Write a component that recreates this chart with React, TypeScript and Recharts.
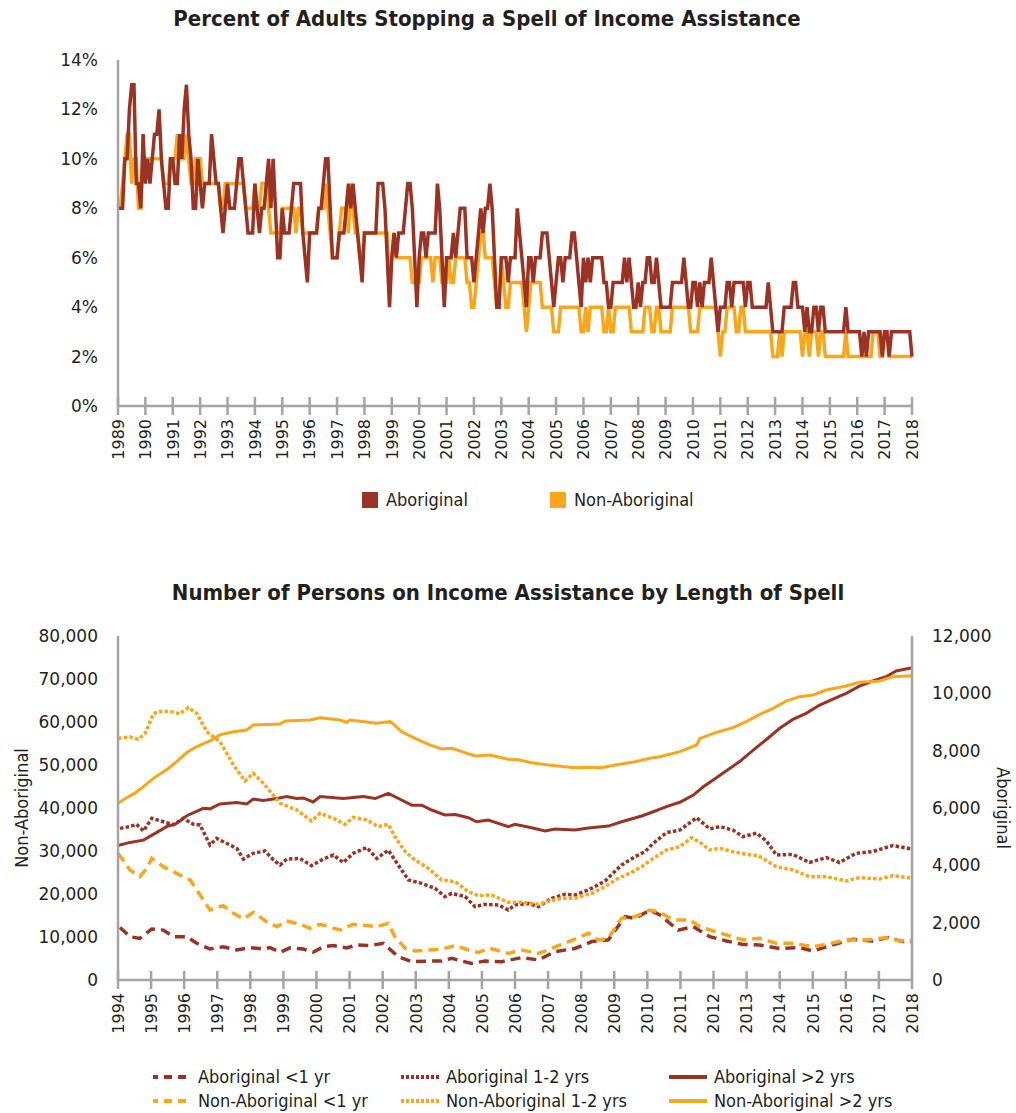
import { LineChart, Line, XAxis, YAxis } from 'recharts'

const ABOR = '#9a3324'
const NONAB = '#f9a61b'
const AXIS = '#a4a4a4'
const TICK_FONT = "'DejaVu Sans', Verdana, sans-serif"
const COND_FONT = "'DejaVu Sans Condensed', 'Liberation Sans Narrow', 'Arial Narrow', sans-serif"

// ---- chart 1: % stopping a spell (monthly, Jan 1989 - Jan 2018)
const stopYearTicks = Array.from({ length: 30 }, (_, i) => 1989 + i)
const pctTicks = [0, 2, 4, 6, 8, 10, 12, 14]

const stopAboriginal = [
  8, 8, 8, 10, 10, 12, 13, 13, 9, 9, 8, 11,
  9, 10, 9, 10, 11, 11, 12, 10, 9, 8, 8, 10,
  10, 9, 9, 11, 10, 12, 13, 11, 10, 8, 8, 10,
  9, 8, 9, 9, 9, 11, 10, 9, 9, 8, 7, 8,
  9, 8, 8, 8, 9, 10, 10, 9, 8, 7, 7, 7,
  9, 8, 7, 8, 8, 9, 10, 8, 10, 8, 6, 6,
  8, 7, 7, 7, 8, 9, 9, 9, 9, 7, 6, 5,
  7, 7, 7, 7, 8, 8, 9, 10, 10, 8, 6, 6,
  6, 7, 7, 7, 8, 9, 8, 9, 8, 7, 6, 5,
  7, 7, 7, 7, 7, 7, 9, 9, 9, 8, 6, 4,
  6, 7, 6, 7, 7, 7, 8, 9, 9, 8, 6, 4,
  6, 7, 7, 6, 7, 7, 7, 7, 9, 8, 6, 4,
  6, 6, 6, 7, 6, 7, 8, 8, 8, 6, 6, 6,
  5, 6, 7, 8, 7, 8, 8, 9, 8, 6, 4, 4,
  6, 6, 6, 5, 6, 6, 6, 8, 7, 6, 5, 4,
  6, 6, 5, 6, 6, 6, 7, 7, 7, 6, 5, 4,
  5, 6, 6, 5, 6, 6, 6, 7, 7, 6, 5, 4,
  6, 5, 6, 5, 6, 6, 6, 6, 6, 5, 5, 4,
  4, 5, 5, 5, 5, 5, 6, 5, 6, 5, 4, 4,
  5, 4, 5, 5, 6, 6, 5, 5, 6, 5, 4, 4,
  4, 4, 4, 5, 5, 5, 5, 5, 6, 5, 4, 4,
  5, 5, 4, 5, 4, 5, 5, 5, 6, 5, 4, 3,
  4, 4, 4, 5, 5, 4, 5, 5, 5, 5, 5, 4,
  5, 5, 4, 4, 4, 4, 4, 4, 4, 5, 4, 3,
  3, 3, 3, 3, 4, 4, 4, 4, 5, 5, 4, 4,
  4, 3, 4, 3, 3, 4, 4, 3, 4, 4, 3, 3,
  3, 3, 3, 3, 3, 3, 3, 4, 3, 3, 3, 3,
  3, 3, 2, 3, 2, 3, 3, 3, 3, 3, 3, 2,
  3, 3, 2, 3, 3, 3, 3, 3, 3, 3, 3, 3,
  2,
]

const stopNonAboriginal = [
  8, 8, 9, 10, 11, 11, 9, 10, 10, 8, 8, 10,
  10, 10, 10, 10, 10, 10, 10, 10, 9, 9, 9, 10,
  10, 10, 11, 10, 10, 10, 11, 10, 9, 9, 10, 10,
  10, 9, 9, 9, 9, 9, 9, 9, 9, 8, 8, 9,
  9, 9, 9, 9, 9, 9, 9, 9, 8, 8, 8, 8,
  9, 8, 8, 9, 9, 9, 8, 7, 7, 7, 7, 7,
  8, 8, 8, 8, 8, 8, 7, 8, 8, 7, 7, 7,
  7, 7, 7, 7, 8, 8, 8, 9, 8, 7, 6, 6,
  6, 7, 8, 8, 8, 7, 9, 8, 7, 7, 6, 6,
  7, 7, 7, 7, 7, 7, 7, 7, 7, 7, 7, 5,
  6, 7, 6, 6, 6, 6, 6, 6, 6, 5, 5, 5,
  5, 6, 6, 6, 6, 6, 5, 6, 6, 6, 5, 5,
  5, 6, 5, 5, 6, 6, 6, 6, 6, 5, 5, 4,
  4, 5, 6, 7, 7, 6, 6, 6, 6, 5, 4, 4,
  6, 5, 4, 4, 5, 5, 5, 5, 5, 5, 4, 3,
  4, 5, 5, 5, 5, 5, 4, 4, 4, 4, 4, 3,
  3, 3, 4, 4, 4, 4, 4, 4, 4, 4, 4, 3,
  3, 4, 3, 4, 4, 4, 4, 4, 4, 3, 3, 4,
  3, 3, 4, 4, 4, 4, 4, 4, 4, 3, 3, 3,
  3, 3, 3, 4, 4, 4, 3, 3, 4, 4, 3, 3,
  3, 3, 3, 4, 4, 4, 4, 4, 4, 4, 4, 3,
  3, 3, 3, 4, 4, 4, 4, 4, 4, 4, 4, 3,
  2, 3, 3, 4, 4, 4, 4, 3, 3, 4, 4, 3,
  3, 3, 3, 3, 3, 3, 3, 3, 3, 3, 3, 2,
  2, 2, 3, 2, 3, 3, 3, 3, 3, 3, 3, 3,
  2, 3, 3, 2, 3, 3, 3, 2, 3, 3, 2, 2,
  2, 2, 2, 2, 2, 2, 2, 3, 2, 2, 2, 2,
  2, 2, 2, 2, 2, 2, 2, 3, 3, 3, 2, 2,
  3, 3, 2, 2, 2, 2, 2, 2, 2, 2, 2, 2,
  2,
]

const stopData = stopAboriginal.map((v, i) => ({
  t: 1989 + i / 12,
  ab: v,
  non: stopNonAboriginal[i],
}))

// ---- chart 2: persons on IA by length of spell, [year, count]
const spellYearTicks = Array.from({ length: 25 }, (_, i) => 1994 + i)
const nonTicks = [0, 10000, 20000, 30000, 40000, 50000, 60000, 70000, 80000]
const abTicks = [0, 2000, 4000, 6000, 8000, 10000, 12000]

const nonAbOver2: [number, number][] = [
  [1994.0, 41090], [1994.26, 42400], [1994.5, 43400], [1994.77, 44960], [1995.07, 46900],
  [1995.52, 49200], [1995.77, 50800], [1996.08, 52900], [1996.38, 54300], [1996.78, 55600],
  [1997.08, 57000], [1997.49, 57750], [1997.89, 58140], [1998.09, 59300], [1998.9, 59530],
  [1999.05, 60230], [1999.8, 60470], [2000.11, 61000], [2000.71, 60470], [2000.91, 59930],
  [2001.01, 60470], [2001.82, 59690], [2002.22, 60080], [2002.32, 59530], [2002.57, 57750],
  [2002.98, 56200], [2003.38, 54800], [2003.78, 53720], [2004.09, 53880], [2004.39, 53100],
  [2004.79, 52100], [2005.24, 52300], [2005.8, 51320], [2006.1, 51200], [2006.5, 50540],
  [2007.01, 50000], [2007.81, 49380], [2008.22, 49450], [2008.62, 49380], [2009.02, 50000],
  [2009.63, 50770], [2010.08, 51550], [2010.38, 51940], [2010.98, 53100], [2011.49, 54650],
  [2011.59, 56200], [2012.09, 57600], [2012.59, 58680], [2012.99, 60080], [2013.4, 61780],
  [2013.8, 63180], [2014.2, 64880], [2014.6, 65890], [2015.01, 66280], [2015.41, 67440],
  [2016.01, 68370], [2016.41, 69230], [2017.02, 69530], [2017.42, 70550], [2018.0, 70780],
]

const abOver2: [number, number][] = [
  [1994.0, 4690], [1994.36, 4800], [1994.77, 4880], [1995.07, 5080], [1995.47, 5350],
  [1995.77, 5460], [1996.08, 5730], [1996.58, 5990], [1996.78, 5970], [1997.08, 6140],
  [1997.59, 6190], [1997.89, 6140], [1998.09, 6310], [1998.39, 6260], [1998.8, 6330],
  [1999.1, 6400], [1999.4, 6330], [1999.6, 6350], [1999.9, 6210], [2000.11, 6400],
  [2000.81, 6330], [2001.42, 6400], [2001.77, 6330], [2002.17, 6510], [2002.57, 6280],
  [2002.88, 6100], [2003.18, 6100], [2003.48, 5930], [2003.88, 5760], [2004.19, 5770],
  [2004.59, 5660], [2004.84, 5520], [2005.19, 5580], [2005.8, 5350], [2006.0, 5430],
  [2006.5, 5310], [2006.91, 5200], [2007.21, 5270], [2007.81, 5230], [2008.22, 5300],
  [2008.82, 5370], [2009.22, 5520], [2009.83, 5720], [2010.18, 5870], [2010.58, 6050],
  [2010.98, 6200], [2011.39, 6450], [2011.69, 6740], [2011.99, 6980], [2012.39, 7300],
  [2012.79, 7620], [2013.2, 8020], [2013.6, 8390], [2014.0, 8780], [2014.4, 9090],
  [2014.8, 9300], [2015.21, 9590], [2015.61, 9800], [2016.01, 10000], [2016.41, 10250],
  [2016.81, 10430], [2017.22, 10580], [2017.52, 10780], [2018.0, 10890],
]

const nonAb1to2: [number, number][] = [
  [1994.0, 56200], [1994.36, 56500], [1994.61, 56000], [1994.82, 57370], [1995.07, 62000],
  [1995.37, 62560], [1995.67, 62300], [1995.87, 61900], [1996.13, 63330], [1996.38, 62000],
  [1996.68, 57750], [1997.08, 55430], [1997.49, 50000], [1997.84, 46280], [1998.09, 48060],
  [1998.39, 45740], [1998.9, 41090], [1999.4, 39540], [1999.85, 36980], [2000.11, 38760],
  [2000.51, 37600], [2000.86, 36200], [2001.11, 37800], [2001.52, 37210], [2001.87, 35660],
  [2002.17, 36200], [2002.37, 33330], [2002.68, 29840], [2002.98, 27900], [2003.38, 25970],
  [2003.78, 23260], [2004.19, 22870], [2004.59, 20540], [2004.89, 19610], [2005.29, 19770],
  [2005.8, 18060], [2006.2, 18060], [2006.71, 17600], [2007.01, 18300], [2007.41, 19000],
  [2007.81, 19000], [2008.32, 20160], [2008.72, 21710], [2009.12, 23640], [2009.53, 25040],
  [2009.83, 26360], [2010.18, 28290], [2010.58, 30230], [2010.98, 31010], [2011.34, 33100],
  [2011.59, 32010], [2011.89, 30230], [2012.19, 30620], [2012.59, 29840], [2012.99, 29220],
  [2013.35, 28910], [2013.9, 26360], [2014.4, 25580], [2014.9, 24030], [2015.41, 24030],
  [2016.01, 23020], [2016.41, 23800], [2017.02, 23490], [2017.42, 24260], [2018.0, 23640],
]

const ab1to2: [number, number][] = [
  [1994.06, 5290], [1994.36, 5350], [1994.56, 5430], [1994.77, 5200], [1995.02, 5640],
  [1995.37, 5520], [1995.67, 5410], [1995.97, 5640], [1996.28, 5430], [1996.48, 5410],
  [1996.78, 4710], [1996.98, 4940], [1997.28, 4770], [1997.59, 4590], [1997.79, 4220],
  [1998.09, 4420], [1998.44, 4500], [1998.7, 4190], [1998.9, 4010], [1999.1, 4220],
  [1999.5, 4240], [1999.85, 3990], [2000.21, 4220], [2000.51, 4360], [2000.81, 4100],
  [2001.11, 4420], [2001.52, 4620], [2001.82, 4240], [2002.17, 4530], [2002.47, 4010],
  [2002.78, 3490], [2003.18, 3370], [2003.58, 3200], [2003.88, 2910], [2004.09, 3020],
  [2004.49, 2910], [2004.79, 2560], [2005.09, 2640], [2005.5, 2620], [2005.8, 2440],
  [2006.0, 2620], [2006.4, 2670], [2006.71, 2560], [2007.11, 2850], [2007.51, 2990],
  [2007.81, 2970], [2008.22, 3140], [2008.72, 3450], [2009.22, 4010], [2009.63, 4300],
  [2009.93, 4480], [2010.18, 4770], [2010.58, 5140], [2010.98, 5230], [2011.49, 5660],
  [2011.89, 5270], [2012.19, 5350], [2012.59, 5230], [2012.89, 5000], [2013.3, 5120],
  [2013.6, 4850], [2013.9, 4360], [2014.4, 4380], [2014.9, 4100], [2015.41, 4270],
  [2015.81, 4100], [2016.31, 4420], [2016.81, 4480], [2017.42, 4690], [2018.0, 4570],
]

const nonAbUnder1: [number, number][] = [
  [1994.0, 29500], [1994.36, 25580], [1994.66, 24030], [1994.87, 25970], [1995.02, 28290],
  [1995.37, 26360], [1995.77, 24810], [1996.18, 23260], [1996.48, 19770], [1996.78, 16280],
  [1997.18, 17290], [1997.49, 15500], [1997.79, 14190], [1998.09, 15740], [1998.49, 13570],
  [1998.8, 12400], [1999.1, 13720], [1999.5, 12950], [1999.8, 12020], [2000.11, 12950],
  [2000.71, 11630], [2001.11, 12950], [2001.82, 12400], [2002.17, 13180], [2002.37, 10080],
  [2002.68, 7360], [2002.98, 6750], [2003.38, 6980], [2003.78, 7210], [2004.19, 7990],
  [2004.59, 6980], [2004.89, 6430], [2005.24, 7360], [2005.8, 6200], [2006.2, 6980],
  [2006.71, 6200], [2007.01, 6980], [2007.31, 7990], [2007.81, 9530], [2008.22, 10850],
  [2008.52, 9300], [2008.82, 9690], [2009.22, 14340], [2009.63, 14730], [2010.08, 16280],
  [2010.38, 15740], [2010.78, 13950], [2011.29, 13950], [2011.59, 12400], [2011.99, 11400],
  [2012.39, 10470], [2012.89, 9300], [2013.4, 9690], [2013.9, 8530], [2014.4, 8530],
  [2015.01, 7750], [2015.41, 8290], [2016.01, 9300], [2016.61, 9300], [2017.22, 9840],
  [2017.62, 9070], [2018.0, 9300],
]

const abUnder1: [number, number][] = [
  [1994.06, 1830], [1994.36, 1510], [1994.66, 1450], [1995.02, 1780], [1995.37, 1740],
  [1995.67, 1510], [1996.08, 1510], [1996.38, 1280], [1996.78, 1080], [1997.18, 1160],
  [1997.59, 1050], [1997.99, 1130], [1998.39, 1080], [1998.59, 1130], [1998.9, 970],
  [1999.2, 1120], [1999.6, 1080], [1999.9, 970], [2000.21, 1160], [2000.51, 1200],
  [2000.91, 1120], [2001.21, 1220], [2001.62, 1200], [2002.02, 1280], [2002.47, 810],
  [2002.88, 640], [2003.38, 660], [2003.78, 660], [2004.09, 760], [2004.39, 660],
  [2004.69, 580], [2005.09, 660], [2005.6, 640], [2006.2, 780], [2006.71, 700],
  [2007.21, 990], [2007.81, 1100], [2008.32, 1340], [2008.82, 1400], [2009.33, 2210],
  [2009.63, 2150], [2010.08, 2440], [2010.38, 2270], [2010.68, 1980], [2010.93, 1740],
  [2011.39, 1860], [2011.89, 1510], [2012.39, 1360], [2012.89, 1240], [2013.4, 1220],
  [2014.0, 1100], [2014.6, 1130], [2015.01, 1010], [2015.51, 1200], [2016.21, 1420],
  [2016.81, 1360], [2017.27, 1480], [2017.72, 1340], [2018.0, 1340],
]

const toPoints = (s: [number, number][]) => s.map(([t, v]) => ({ t, v }))

const DASHED = '10 6'
const DOTTED = '3.5 2.2'

const spellSeries = [
  { name: 'Aboriginal <1 yr', data: abUnder1, color: ABOR, dash: DASHED, axis: 'right' },
  { name: 'Aboriginal 1-2 yrs', data: ab1to2, color: ABOR, dash: DOTTED, axis: 'right' },
  { name: 'Aboriginal >2 yrs', data: abOver2, color: ABOR, dash: undefined, axis: 'right' },
  { name: 'Non-Aboriginal <1 yr', data: nonAbUnder1, color: NONAB, dash: DASHED, axis: 'left' },
  { name: 'Non-Aboriginal 1-2 yrs', data: nonAb1to2, color: NONAB, dash: DOTTED, axis: 'left' },
  { name: 'Non-Aboriginal >2 yrs', data: nonAbOver2, color: NONAB, dash: undefined, axis: 'left' },
]

function YearTick(props: any) {
  const { x, y, payload } = props
  const ty = y + 13
  return (
    <g>
      <line x1={x} x2={x} y1={y - 9} y2={y + 9} stroke={AXIS} strokeWidth={2.5} />
      <text
        x={x}
        y={ty}
        transform={`rotate(-90, ${x}, ${ty})`}
        textAnchor="end"
        dy="0.36em"
        fontFamily={TICK_FONT}
        fontSize={16}
        fill="#231f20"
      >
        {payload.value}
      </text>
    </g>
  )
}

const yTick = { fontFamily: TICK_FONT, fontSize: 17, fill: '#231f20' }
const axisLine = { stroke: AXIS, strokeWidth: 2.5 }
const fmt = (v: number) => v.toLocaleString('en-US')

const titleStyle: React.CSSProperties = {
  position: 'absolute',
  left: 0,
  textAlign: 'center',
  fontFamily: COND_FONT,
  fontWeight: 'bold',
  fontSize: 22,
  lineHeight: '24px',
  color: '#231f20',
  whiteSpace: 'nowrap',
}

const legendText: React.CSSProperties = {
  position: 'absolute',
  fontFamily: COND_FONT,
  fontSize: 18,
  lineHeight: '22px',
  color: '#231f20',
  whiteSpace: 'nowrap',
}

export default function App() {
  const legendCols = [152, 400, 668]
  return (
    <div style={{ position: 'absolute', left: 0, top: 0, width: 1016, height: 1113, background: '#fff' }}>
      {/* top chart */}
      <div style={{ ...titleStyle, top: 7, width: 974 }}>
        Percent of Adults Stopping a Spell of Income Assistance
      </div>
      <div style={{ position: 'absolute', left: 0, top: 0 }}>
        <LineChart width={1016} height={470} data={stopData} margin={{ top: 60, right: 104, left: 58, bottom: 0 }}>
          <XAxis
            dataKey="t"
            type="number"
            domain={[1989, 2018]}
            ticks={stopYearTicks}
            interval={0}
            height={64}
            tickLine={false}
            tickSize={0}
            tickMargin={0}
            axisLine={axisLine}
            tick={<YearTick />}
          />
          <YAxis
            type="number"
            domain={[0, 14]}
            ticks={pctTicks}
            width={60}
            tickLine={false}
            tickMargin={14}
            axisLine={axisLine}
            tick={yTick}
            tickFormatter={(v: number) => `${v}%`}
          />
          <Line dataKey="non" stroke={NONAB} strokeWidth={3.5} dot={false} activeDot={false} isAnimationActive={false} />
          <Line dataKey="ab" stroke={ABOR} strokeWidth={3.5} dot={false} activeDot={false} isAnimationActive={false} />
        </LineChart>
      </div>
      <div style={{ position: 'absolute', left: 362, top: 492, width: 16, height: 16, background: ABOR }} />
      <div style={{ ...legendText, left: 386, top: 489 }}>Aboriginal</div>
      <div style={{ position: 'absolute', left: 550, top: 492, width: 16, height: 16, background: NONAB }} />
      <div style={{ ...legendText, left: 574, top: 489 }}>Non-Aboriginal</div>

      {/* bottom chart */}
      <div style={{ ...titleStyle, top: 581, width: 1016 }}>
        Number of Persons on Income Assistance by Length of Spell
      </div>
      <div style={{ position: 'absolute', left: 0, top: 560 }}>
        <LineChart width={1016} height={500} margin={{ top: 76, right: 24, left: 38, bottom: 16 }}>
          <XAxis
            dataKey="t"
            type="number"
            domain={[1994, 2018]}
            ticks={spellYearTicks}
            interval={0}
            height={64}
            tickLine={false}
            tickSize={0}
            tickMargin={0}
            axisLine={axisLine}
            tick={<YearTick />}
            allowDuplicatedCategory={false}
          />
          <YAxis
            yAxisId="left"
            type="number"
            domain={[0, 80000]}
            ticks={nonTicks}
            width={80}
            tickLine={false}
            tickMargin={14}
            axisLine={axisLine}
            tick={yTick}
            tickFormatter={fmt}
          />
          <YAxis
            yAxisId="right"
            orientation="right"
            type="number"
            domain={[0, 12000]}
            ticks={abTicks}
            width={80}
            tickLine={false}
            tickMargin={14}
            axisLine={axisLine}
            tick={yTick}
            tickFormatter={fmt}
          />
          {spellSeries.map((s) => (
            <Line
              key={s.name}
              yAxisId={s.axis}
              data={toPoints(s.data)}
              dataKey="v"
              stroke={s.color}
              strokeWidth={s.dash ? 3.5 : 3}
              strokeDasharray={s.dash}
              dot={false}
              activeDot={false}
              isAnimationActive={false}
            />
          ))}
        </LineChart>
      </div>
      <div
        style={{
          ...legendText,
          left: 22,
          top: 808,
          transform: 'translate(-50%, -50%) rotate(-90deg)',
        }}
      >
        Non-Aboriginal
      </div>
      <div
        style={{
          ...legendText,
          left: 1003,
          top: 808,
          transform: 'translate(-50%, -50%) rotate(90deg)',
        }}
      >
        Aboriginal
      </div>

      {spellSeries.map((s, i) => {
        const col = i % 3
        const row = Math.floor(i / 3)
        const cy = row === 0 ? 1077 : 1101
        const left = legendCols[col]
        return (
          <div key={s.name}>
            <svg style={{ position: 'absolute', left, top: cy - 4 }} width={40} height={8}>
              <line
                x1={1}
                x2={39}
                y1={4}
                y2={4}
                stroke={s.color}
                strokeWidth={4}
                strokeDasharray={s.dash === DASHED ? '5 6 8 6 8 6' : s.dash === DOTTED ? '3 2' : undefined}
              />
            </svg>
            <div style={{ ...legendText, left: left + 46, top: cy - 11 }}>{s.name}</div>
          </div>
        )
      })}
    </div>
  )
}
